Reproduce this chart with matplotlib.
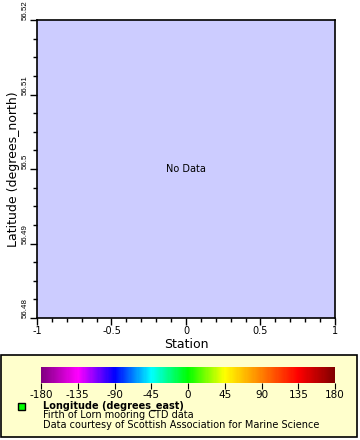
import matplotlib
matplotlib.use("Agg")
import matplotlib.pyplot as plt
from matplotlib.colors import LinearSegmentedColormap
from matplotlib.patches import Rectangle
from matplotlib.ticker import MultipleLocator

# Achsenbereiche und Beschriftungen
x_limits = [-1, 1]
y_limits = [56.48, 56.52]
x_ticks = [-1, -0.5, 0, 0.5, 1]
x_tick_labels = ["-1", "-0.5", "0", "0.5", "1"]
y_ticks = [56.48, 56.49, 56.5, 56.51, 56.52]
y_tick_labels = ["56.48", "56.49", "56.5", "56.51", "56.52"]

# Farbskala (Longitude)
cbar_ticks = [-180, -135, -90, -45, 0, 45, 90, 135, 180]
cbar_colors = ["#800080", "#ff00ff", "#0000ff", "#00ffff", "#00ff00",
               "#ffff00", "#ff8000", "#ff0000", "#800000"]

legend_title = "Longitude (degrees_east)"
legend_lines = ["Firth of Lorn mooring CTD data",
                "Data courtesy of Scottish Association for Marine Science"]

W, H = 360, 440


def px_rect(x0, y0, x1, y1):
    # Pixelkoordinaten (von oben) in Figure-Koordinaten umrechnen
    return [x0 / W, (H - y1) / H, (x1 - x0) / W, (y1 - y0) / H]


def main():
    fig = plt.figure(figsize=(W / 100, H / 100), dpi=100)

    # Legendenkasten als eigene Achse ganz unten
    bg = fig.add_axes([0, 0, 1, 1], zorder=-1)
    bg.set_xlim(0, W)
    bg.set_ylim(H, 0)
    bg.axis("off")
    bg.add_patch(Rectangle((1, 355), 356, 82, facecolor="#ffffcc",
                           edgecolor="black", linewidth=1.2))
    bg.add_patch(Rectangle((18, 403), 7, 7, facecolor="#00ff00",
                           edgecolor="black", linewidth=1))
    bg.text(43, 406, legend_title, fontsize=7, fontweight="bold", va="center")
    for i, line in enumerate(legend_lines):
        bg.text(43, 415.5 + 9.5 * i, line, fontsize=7, va="center")

    ax = fig.add_axes(px_rect(37, 20, 335, 318))
    ax.set_facecolor("#ccccff")
    ax.set_xlim(x_limits)
    ax.set_ylim(y_limits)
    ax.set_xticks(x_ticks)
    ax.set_xticklabels(x_tick_labels, fontsize=7)
    ax.set_yticks(y_ticks)
    # kleinere, schmalere Schrift, damit die oberste Beschriftung ins Bild passt
    ax.set_yticklabels(y_tick_labels, fontsize=5.7, rotation=90, va="bottom",
                       family="Liberation Sans")
    ax.xaxis.set_minor_locator(MultipleLocator(0.1))
    ax.yaxis.set_minor_locator(MultipleLocator(0.0025))
    ax.tick_params(which="major", length=5, width=1, pad=1)
    ax.tick_params(which="minor", length=3, width=1)
    for s in ax.spines.values():
        s.set_linewidth(1.2)
    ax.set_xlabel("Station", fontsize=9, labelpad=1)
    ax.set_ylabel("Latitude (degrees_north)", fontsize=9, labelpad=1)
    ax.text(0, 56.5, "No Data", ha="center", va="center", fontsize=7)

    cmap = LinearSegmentedColormap.from_list("rainbow2", cbar_colors)
    cax = fig.add_axes(px_rect(41, 367, 335, 383))
    norm = matplotlib.colors.Normalize(vmin=cbar_ticks[0], vmax=cbar_ticks[-1])
    cb = fig.colorbar(matplotlib.cm.ScalarMappable(norm=norm, cmap=cmap), cax=cax,
                      orientation="horizontal", ticks=cbar_ticks)
    cb.outline.set_visible(False)
    cb.ax.tick_params(labelsize=7.5, length=4, pad=1)
    cb.ax.set_xticklabels([str(t) for t in cbar_ticks])

    fig.savefig("out.png", dpi=100)


if __name__ == "__main__":
    main()
